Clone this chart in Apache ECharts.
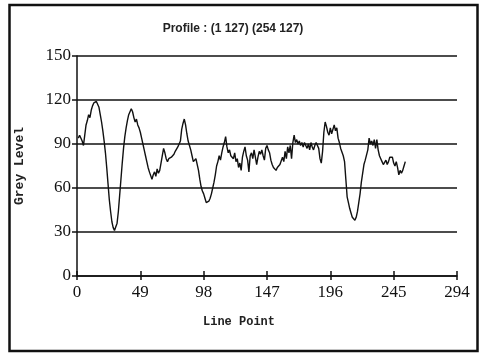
<!DOCTYPE html>
<html>
<head>
<meta charset="utf-8">
<script src="https://cdn.jsdelivr.net/npm/echarts@6/dist/echarts.min.js"></script>
<style>
  html, body { margin: 0; padding: 0; background: #fff; }
  #chart { width: 483px; height: 356px; }
</style>
</head>
<body>
<div id="chart"></div>
<script>
// Grey level profile along line (1,127) -> (254,127)
const titleText = 'Profile : (1 127) (254 127)';
const xTicks = [0, 49, 98, 147, 196, 245, 294];
const yTicks = [0, 30, 60, 90, 120, 150];

// grey level sampled at line points 1..254
const greyLevels = [
  94, 96, 95, 92, 89, 96, 103, 106, 110, 108,
  113, 116, 118, 119, 119, 118, 115, 110, 105, 99,
  92, 84, 74, 63, 52, 44, 37, 33, 31, 31,
  36, 44, 55, 66, 77, 87, 95, 101, 106, 110,
  112, 114, 112, 108, 105, 107, 103, 101, 98, 94,
  90, 86, 82, 78, 74, 71, 72, 66, 69, 71,
  68, 73, 70, 72, 77, 82, 87, 84, 80, 78,
  80, 79, 81, 82, 83, 85, 86, 88, 90, 92,
  100, 104, 107, 103, 97, 92, 89, 86, 82, 78,
  77, 80, 79, 72, 66, 61, 58, 56, 53, 50,
  49, 51, 53, 56, 60, 64, 69, 75, 78, 82,
  79, 84, 88, 91, 95, 88, 84, 86, 82, 83,
  80, 84, 78, 80, 74, 77, 72, 81, 85, 88,
  82, 79, 71, 82, 84, 80, 86, 81, 76, 81,
  85, 83, 86, 82, 79, 87, 89, 86, 84, 79,
  76, 74, 73, 72, 74, 73, 76, 76, 81, 78,
  85, 80, 88, 84, 89, 80, 91, 96, 91, 93,
  90, 92, 89, 91, 88, 91, 89, 87, 90, 86,
  91, 88, 86, 89, 91, 92, 87, 80, 77, 85,
  98, 105, 102, 98, 96, 101, 97, 98, 103, 99,
  101, 94, 91, 87, 86, 82, 78, 66, 54, 50,
  46, 43, 40, 39, 38, 40, 44, 50, 56, 64,
  70, 76, 79, 80, 86, 94, 90, 92, 89, 93,
  87, 93, 86, 82, 80, 78, 76, 77, 79, 76,
  78, 81, 80, 81, 77, 75, 78, 74, 69, 72,
  70, 72, 75, 78
];
const linePoints = greyLevels.map((_, i) => i + 1);

const chart = echarts.init(document.getElementById('chart'), null, { renderer: 'canvas' });

const serif = 'Liberation Serif, Times New Roman, serif';
const mono = 'Liberation Mono, Courier New, monospace';

chart.setOption({
  backgroundColor: '#ffffff',
  animation: false,
  title: {
    text: titleText,
    left: 228,
    textAlign: 'center',
    top: 18,
    textStyle: { fontFamily: 'Liberation Sans, Arial, sans-serif', fontSize: 12, fontWeight: 'bold', color: '#222' }
  },
  grid: { left: 77, right: 26, top: 56, bottom: 80 },
  xAxis: [{
    type: 'value',
    min: xTicks[0],
    max: xTicks[xTicks.length - 1],
    interval: 49,
    axisLine: { lineStyle: { color: '#111', width: 1.5 } },
    axisTick: { show: true, inside: false, length: 4, lineStyle: { color: '#111', width: 1.5 } },
    axisLabel: { margin: 8, fontFamily: serif, fontSize: 17, color: '#111' },
    splitLine: { show: false }
  }, {
    type: 'value',
    position: 'bottom',
    min: xTicks[0],
    max: xTicks[xTicks.length - 1],
    interval: 49,
    axisLine: { show: false },
    axisTick: { show: true, inside: true, length: 5, lineStyle: { color: '#111', width: 1.5 } },
    axisLabel: { show: false },
    splitLine: { show: false }
  }],
  yAxis: {
    type: 'value',
    min: yTicks[0],
    max: yTicks[yTicks.length - 1],
    interval: 30,
    name: 'Grey Level',
    nameLocation: 'middle',
    nameGap: 51,
    nameRotate: 90,
    nameTextStyle: { fontFamily: mono, fontSize: 13, fontWeight: 'bold', color: '#222' },
    axisLine: { show: true, lineStyle: { color: '#111', width: 1.5 } },
    axisTick: { show: true, inside: false, length: 5, lineStyle: { color: '#111', width: 1.5 } },
    axisLabel: { margin: 6, fontFamily: serif, fontSize: 17, color: '#111' },
    splitLine: { show: true, lineStyle: { color: '#111', width: 1.5 } }
  },
  graphic: [{
    type: 'rect',
    shape: { x: 9.5, y: 5, width: 468, height: 346 },
    style: { fill: 'none', stroke: '#111', lineWidth: 2.5 },
    silent: true
  }, {
    type: 'text',
    x: 239,
    y: 322,
    style: {
      text: 'Line Point',
      fontFamily: mono,
      fontSize: 12,
      fontWeight: 'bold',
      fill: '#222',
      textAlign: 'center',
      textVerticalAlign: 'middle'
    },
    silent: true
  }],
  series: [{
    type: 'line',
    xAxisIndex: 0,
    data: linePoints.map((x, i) => [x, greyLevels[i]]),
    showSymbol: false,
    lineStyle: { color: '#111', width: 1.4 },
    z: 3
  }]
});
</script>
